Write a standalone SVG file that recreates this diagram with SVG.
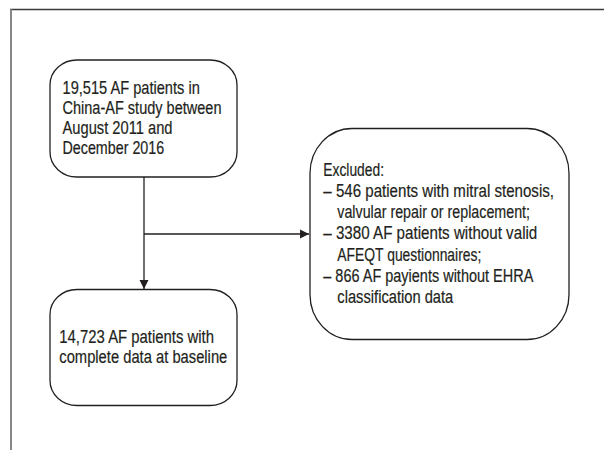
<svg xmlns="http://www.w3.org/2000/svg" width="604" height="450" viewBox="0 0 604 450">
<style>
.bg{fill:#ffffff}
.box{fill:#ffffff;stroke:#231f20;stroke-width:1.3}
.t{font-family:"Liberation Sans",Arial,sans-serif;font-size:18.3px;fill:#231f20;stroke:#231f20;stroke-width:0.2}
.ln{fill:none;stroke:#231f20;stroke-width:1.3}
</style>
<defs>
<marker id="ah" markerWidth="10" markerHeight="10" refX="9" refY="5" orient="auto" markerUnits="userSpaceOnUse">
<path d="M0,0.5 L9,5 L0,9.5 Z" fill="#231f20"/>
</marker>
</defs>
<rect class="bg" x="0" y="0" width="604" height="450"/>
<g id="frame">
<line x1="10" y1="9.5" x2="604" y2="9.5" stroke="#3a3a3a" stroke-width="1.5"/>
<line x1="11" y1="9" x2="11" y2="450" stroke="#7a7a7a" stroke-width="1.8"/>
</g>
<g id="connectors">
<line class="ln" x1="144" y1="177" x2="144" y2="289" marker-end="url(#ah)"/>
<line class="ln" x1="144" y1="234" x2="309" y2="234" marker-end="url(#ah)"/>
</g>
<g id="n1">
<rect class="box" x="50" y="60" width="187" height="117" rx="27" ry="25"/>
<text class="t" lengthAdjust="spacingAndGlyphs" x="62.5" y="94" textLength="137.3">19,515 AF patients in</text>
<text class="t" lengthAdjust="spacingAndGlyphs" x="62.5" y="114" textLength="159">China-AF study between</text>
<text class="t" lengthAdjust="spacingAndGlyphs" x="62.5" y="134" textLength="110">August 2011 and</text>
<text class="t" lengthAdjust="spacingAndGlyphs" x="62.5" y="154" textLength="101.7">December 2016</text>
</g>
<g id="n2">
<rect class="box" x="310" y="128.5" width="259" height="211" rx="42" ry="45"/>
<text class="t" lengthAdjust="spacingAndGlyphs" x="323.3" y="175.7" textLength="60.7">Excluded:</text>
<text class="t" lengthAdjust="spacingAndGlyphs" x="323.3" y="196.9" textLength="230.7">– 546 patients with mitral stenosis,</text>
<text class="t" lengthAdjust="spacingAndGlyphs" x="337.3" y="218.1" textLength="192.7">valvular repair or replacement;</text>
<text class="t" lengthAdjust="spacingAndGlyphs" x="323.3" y="239.3" textLength="214">– 3380 AF patients without valid</text>
<text class="t" lengthAdjust="spacingAndGlyphs" x="337.3" y="260.5" textLength="144">AFEQT questionnaires;</text>
<text class="t" lengthAdjust="spacingAndGlyphs" x="323.3" y="281.7" textLength="210">– 866 AF payients without EHRA</text>
<text class="t" lengthAdjust="spacingAndGlyphs" x="337.3" y="302.9" textLength="116">classification data</text>
</g>
<g id="n3">
<rect class="box" x="50" y="289.5" width="187" height="116" rx="27" ry="25"/>
<text class="t" lengthAdjust="spacingAndGlyphs" x="59.3" y="342.7" textLength="154.7">14,723 AF patients with</text>
<text class="t" lengthAdjust="spacingAndGlyphs" x="59.3" y="362.7" textLength="168">complete data at baseline</text>
</g>
</svg>
